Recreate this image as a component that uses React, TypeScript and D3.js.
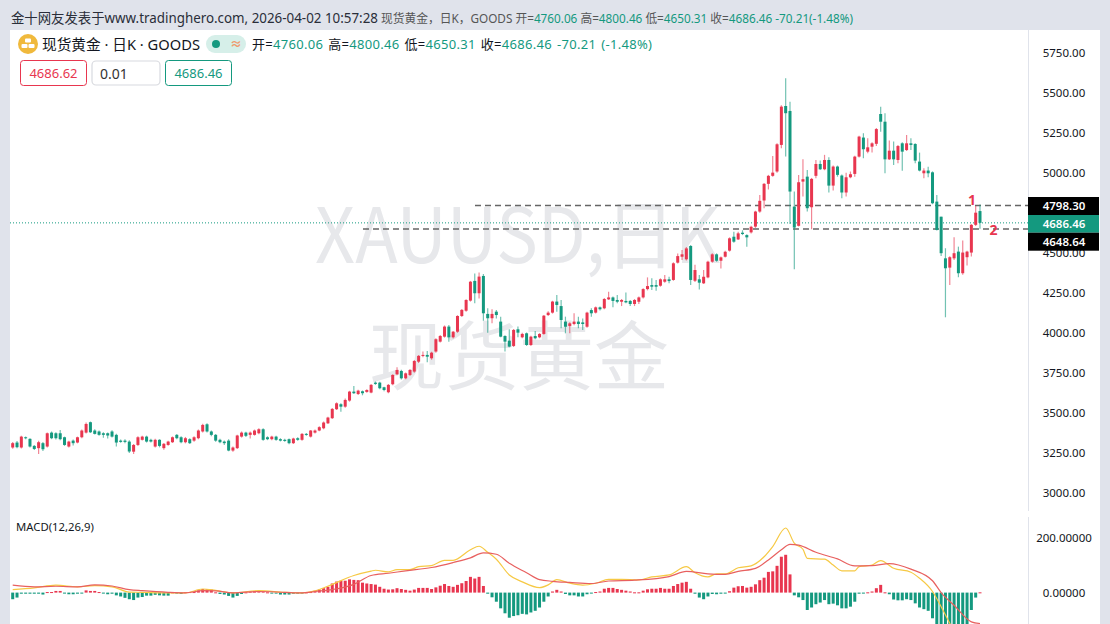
import React from "react";
import * as d3 from "d3";

// Daily candles
const opens = [
  3284,3315,3284,3348,3338,3294,3280,3311,3290,3377,
  3373,3373,3348,3290,3327,3315,3348,3377,3442,3390,
  3384,3373,3373,3384,3363,3327,3327,3321,3258,3300,
  3332,3352,3332,3290,3332,3280,3300,3317,3363,3348,
  3317,3336,3327,3342,3384,3429,3384,3363,3332,3321,
  3327,3265,3280,3352,3377,3363,3363,3373,3398,3348,
  3336,3352,3336,3332,3336,3311,3342,3332,3369,3352,
  3377,3390,3404,3435,3467,3523,3554,3539,3577,3633,
  3618,3635,3631,3627,3689,3689,3660,3629,3679,3741,
  3762,3716,3737,3758,3820,3856,3862,3841,3883,3945,
  3976,4039,3972,4007,4105,4138,4201,4324,4247,4355,
  4118,4091,4132,4070,3980,3951,3918,4022,3972,3997,
  3924,3980,3972,3993,4111,4126,4195,4167,4070,4043,
  4055,4070,4065,4038,4142,4126,4159,4153,4209,4221,
  4205,4194,4199,4199,4180,4194,4221,4273,4298,4298,
  4294,4319,4334,4330,4438,4475,4459,4542,4325,4334,
  4309,4346,4444,4490,4450,4475,4513,4600,4583,4625,
  4610,4627,4663,4757,4826,4930,4980,5007,5173,5416,
  5385,4788,4668,4944,4975,4784,4980,5054,5021,5079,
  4919,5038,4982,4876,4971,4992,5100,5219,5131,5162,
  5180,5366,5318,5083,5137,5079,5183,5141,5183,5179,
  5069,4996,5013,5002,4819,4725,4465,4407,4465,4507,
  4372,4472,4501,4674,4760.06,
];
const closes = [
  3311,3286,3352,3342,3290,3275,3317,3273,3373,3342,
  3342,3336,3300,3321,3311,3348,3390,3431,3379,3369,
  3363,3363,3359,3352,3315,3319,3319,3259,3300,3348,
  3352,3321,3321,3332,3294,3307,3321,3348,3342,3317,
  3342,3311,3348,3390,3425,3384,3363,3327,3317,3311,
  3265,3284,3359,3377,3357,3377,3390,3398,3332,3336,
  3352,3332,3327,3325,3311,3340,3332,3369,3363,3390,
  3390,3411,3440,3471,3525,3560,3539,3581,3633,3623,
  3639,3623,3643,3675,3681,3654,3643,3675,3737,3768,
  3716,3747,3768,3824,3856,3862,3851,3876,3960,3980,
  4039,3972,4007,4105,4143,4205,4319,4247,4351,4122,
  4091,4118,4111,3976,3945,3914,4018,4001,3993,3924,
  3976,3966,3993,4107,4126,4195,4174,4080,4038,4059,
  4070,4055,4055,4126,4122,4159,4147,4211,4221,4199,
  4194,4205,4190,4180,4205,4221,4273,4292,4288,4288,
  4334,4334,4323,4434,4479,4490,4527,4330,4392,4313,
  4350,4444,4490,4450,4471,4506,4590,4569,4621,4617,
  4596,4662,4757,4824,4930,4980,5000,5177,5412,5371,
  4882,4657,4940,4959,4778,4961,5054,5021,5079,4919,
  5038,4986,4876,4971,4990,5100,5225,5146,5158,5183,
  5272,5318,5083,5137,5083,5166,5131,5183,5173,5075,
  5013,5013,4996,4809,4642,4497,4403,4472,4497,4372,
  4501,4507,4674,4750,4686.46,
];
const highs = [
  3319,3325,3358,3352,3342,3300,3326,3318,3378,3384,
  3380,3394,3352,3326,3334,3352,3396,3440,3446,3398,
  3390,3380,3378,3392,3370,3334,3336,3330,3306,3354,
  3358,3358,3338,3338,3336,3312,3326,3353,3368,3354,
  3350,3342,3354,3396,3432,3436,3390,3368,3338,3328,
  3336,3290,3364,3384,3382,3384,3396,3404,3404,3354,
  3358,3358,3342,3338,3340,3345,3348,3374,3374,3394,
  3396,3416,3446,3476,3530,3566,3560,3590,3638,3668,
  3644,3640,3648,3680,3696,3694,3664,3680,3742,3785,
  3770,3752,3774,3830,3862,3883,3887,3882,3966,3986,
  4046,4049,4012,4110,4148,4210,4324,4371,4376,4367,
  4153,4147,4143,4101,3985,4022,4024,4039,4000,4002,
  3982,4012,3998,4112,4134,4200,4236,4205,4101,4066,
  4122,4101,4090,4132,4153,4165,4165,4217,4257,4226,
  4236,4211,4251,4205,4211,4226,4278,4346,4340,4330,
  4340,4361,4350,4440,4495,4517,4535,4548,4425,4361,
  4392,4450,4496,4496,4477,4512,4596,4631,4631,4640,
  4615,4668,4762,4860,4936,4986,5104,5183,5420,5589,
  5443,4882,4986,5084,5017,4967,5079,5075,5111,5096,
  5044,5044,4988,5000,5007,5106,5231,5246,5215,5190,
  5278,5412,5370,5200,5194,5172,5190,5235,5214,5183,
  5125,5027,5037,5008,4861,4725,4528,4478,4596,4538,
  4576,4513,4680,4792,4800.46,
];
const lows = [
  3277,3280,3278,3336,3284,3268,3244,3262,3284,3336,
  3334,3330,3294,3284,3296,3310,3342,3372,3375,3365,
  3358,3345,3340,3346,3290,3313,3310,3250,3244,3294,
  3327,3315,3316,3284,3285,3270,3295,3312,3335,3310,
  3310,3306,3320,3336,3378,3378,3355,3320,3310,3300,
  3260,3258,3274,3346,3350,3340,3358,3366,3326,3330,
  3330,3326,3322,3320,3305,3306,3326,3326,3357,3346,
  3372,3385,3398,3430,3462,3518,3508,3532,3570,3618,
  3612,3610,3626,3622,3675,3648,3635,3622,3672,3735,
  3708,3710,3730,3750,3812,3848,3816,3832,3875,3940,
  3970,3945,3965,4000,4098,4132,4195,4184,4215,4076,
  4001,4059,4090,3972,3883,3910,3912,3972,3966,3918,
  3918,3960,3966,3988,4105,4120,4132,4028,3997,3997,
  4048,4028,4018,4032,4101,4120,4140,4147,4205,4159,
  4184,4167,4184,4167,4167,4180,4215,4265,4267,4263,
  4288,4312,4309,4325,4432,4454,4452,4298,4318,4271,
  4305,4340,4438,4444,4402,4470,4507,4563,4579,4610,
  4538,4620,4655,4750,4778,4895,4975,5000,5152,5100,
  4680,4397,4663,4851,4757,4647,4965,5017,5015,4876,
  4888,4975,4840,4851,4965,4975,5094,5090,5121,5125,
  5166,5256,4996,5079,5048,5058,5012,5135,5141,5058,
  5008,4965,4971,4803,4638,4480,4097,4299,4455,4347,
  4362,4420,4476,4667,4650.31,
];

// MACD histogram, one value per candle
const macdHist = [
  -24,-18,-4,-4,-4,-4,-4,-7,2,2,
  6,6,-2,-6,-6,-4,-2,8,6,6,
  2,-1,-6,-4,-10,-14,-19,-24,-27,-18,
  -16,-11,-11,-8,-10,-11,-11,1,-1,-5,
  2,2,2,8,13,12,11,1,-5,-7,
  -12,-18,-12,-5,1,4,6,6,4,1,
  -1,-2,-7,-7,-7,-4,-4,-1,1,2,
  7,11,16,21,33,40,43,43,48,46,
  45,36,33,31,29,21,14,11,12,16,
  13,10,7,11,17,17,17,13,19,25,
  31,24,21,28,34,42,57,51,57,24,
  -4,-17,-33,-57,-75,-91,-85,-82,-77,-79,
  -72,-66,-54,-33,-14,4,10,4,-5,-10,
  -10,-14,-14,-6,-2,2,4,14,17,17,
  13,10,7,4,1,1,7,12,14,14,
  17,14,14,24,31,36,39,14,-4,-18,
  -24,-14,-5,-6,-4,-1,5,18,23,24,
  18,21,30,45,54,75,77,97,130,137,
  66,-10,-17,-27,-63,-54,-42,-36,-27,-42,
  -40,-46,-57,-57,-51,-33,-4,-1,1,4,
  16,28,1,-6,-25,-28,-28,-24,-27,-39,
  -54,-60,-66,-93,-127,-139,-145,-151,-145,-139,
  -133,-115,-63,-18,1,
];

// MACD lines, vertices read where the lines bend
const difIndex = [0,5,10,15,19,23,27,30,36,40,44,47,51,57,63,67,70,74,79,83,84,87,89,92,94,97,100,102,106,108,110,112,115,118,122,124,126,129,132,135,138,141,145,148,152,156,158,161,163,165,168,171,174,176,179,181,183,184,188,190,192,195,196,199,201,204,208,210,213,215,217,218,224];
const difValues = [11,17,27,21,25,21,2,1,-1,-1,13,8,-1,7,1,-1,6,30,62,78,81,75,83,83,94,98,117,117,155,168,146,121,64,39,18,28,47,34,27,34,48,48,46,57,64,94,72,57,68,68,90,97,130,167,234,179,157,124,121,100,79,79,94,100,116,88,74,52,4,-51,-111,-141,-230];
const deaIndex = [0,5,10,15,19,23,27,30,36,40,44,47,51,57,63,67,70,74,79,83,87,91,97,102,106,109,112,115,119,122,125,129,134,138,144,152,156,161,165,168,172,175,178,180,182,186,191,195,199,203,208,213,215,218,222,224];
const deaValues = [27,21,23,21,28,24,11,7,1,-1,7,6,-1,4,1,-1,4,11,30,62,70,79,91,109,126,144,139,106,72,47,41,37,33,42,45,58,77,68,66,77,88,118,155,175,172,146,122,97,98,105,85,43,0,-46,-106,-112];

// 4750.00 sits behind the price tags in the picture, so it is not listed
const priceTicks = [5750,5500,5250,5000,4500,4250,4000,3750,3500,3250,3000];
const macdTicks = [200, 0];
const levelOne = 4798.3;
const levelTwo = 4648.64;
const lastClose = 4686.46;

const red = "#e8364f";
const green = "#14997f";
const sans = "'Noto Sans', 'Noto Sans CJK SC', sans-serif";
const cjk = "'Noto Sans CJK SC', 'Noto Sans', sans-serif";

const indices = d3.range(opens.length);
const x = d3.scalePoint<number>().domain(indices).range([12.7, 980]);
const y = d3.scaleLinear().domain([3000, 5750]).range([493, 52.5]);
const yMacd = d3.scaleLinear().domain([0, 200]).range([592.6, 537.4]);

const difLine = d3.line<number>().x((d) => x(d) as number).y((_, i) => yMacd(difValues[i])).curve(d3.curveMonotoneX);
const deaLine = d3.line<number>().x((d) => x(d) as number).y((_, i) => yMacd(deaValues[i])).curve(d3.curveMonotoneX);

const App: React.FC = () => {
  const barW = 3;
  return (
    <svg
      width={1110}
      height={624}
      viewBox="0 0 1110 624"
      style={{ position: "absolute", left: 0, top: 0, display: "block", background: "#e0e3eb" }}
      fontFamily={sans}
    >
      <rect x={10} y={30} width={1090} height={594} fill="#fff" />

      {/* watermark */}
      <text x={315} y={263} fontSize={76} fill="#e7e8eb" fontFamily={cjk} textLength={405} lengthAdjust="spacingAndGlyphs">XAUUSD,日K</text>
      <text x={369} y={384} fontSize={75} fill="#e7e8eb" fontFamily={cjk}>现货黄金</text>

      {/* header strip */}
      <text x={11} y={23} fontSize={13.6} fill="#2a2e39" textLength={367} lengthAdjust="spacingAndGlyphs">
        金十网友发表于www.tradinghero.com, 2026-04-02 10:57:28
      </text>
      <text x={381} y={22.5} fontSize={12} fill="#555" textLength={472} lengthAdjust="spacingAndGlyphs">
        现货黄金，日K，GOODS 开=
        <tspan fill={green}>4760.06</tspan> 高=
        <tspan fill={green}>4800.46</tspan> 低=
        <tspan fill={green}>4650.31</tspan> 收=
        <tspan fill={green}>4686.46 -70.21(-1.48%)</tspan>
      </text>

      {/* legend */}
      <circle cx={28} cy={44} r={10} fill="#f0b93c" />
      <rect x={25} y={38.5} width={6} height={4} rx={1} fill="#fff" />
      <rect x={21.5} y={44} width={6} height={4} rx={1} fill="#fff" />
      <rect x={28.5} y={44} width={6} height={4} rx={1} fill="#fff" />
      <text x={42} y={49.5} fontSize={14.5} fill="#131722" textLength={158} lengthAdjust="spacingAndGlyphs">现货黄金 · 日K · GOODS</text>
      <rect x={206} y={35} width={40} height={18} rx={9} fill="#d6efe9" />
      <circle cx={216} cy={44} r={4} fill={green} />
      <text x={236} y={48.5} fontSize={12} textAnchor="middle" fill="#ef9a6e" fontWeight={700}>≈</text>
      <text x={252} y={49} fontSize={13} fill="#131722" letterSpacing={0.3}>
        开=<tspan fill={green}>4760.06</tspan>
        <tspan dx={5}>高=</tspan><tspan fill={green}>4800.46</tspan>
        <tspan dx={5}>低=</tspan><tspan fill={green}>4650.31</tspan>
        <tspan dx={5}>收=</tspan><tspan fill={green}>4686.46</tspan>
        <tspan dx={5} fill={green}>-70.21</tspan>
        <tspan dx={5} fill={green}>(-1.48%)</tspan>
      </text>

      {/* quote boxes */}
      <rect x={20.5} y={60.5} width={66} height={25} rx={3} fill="#fff" stroke={red} />
      <text x={53.5} y={77.5} fontSize={13} textAnchor="middle" fill={red}>4686.62</text>
      <rect x={92} y={61} width={68} height={24} rx={4} fill="#fff" stroke="#d8dadf" strokeWidth={1.2} />
      <text x={100} y={79} fontSize={14} fill="#333">0.01</text>
      <rect x={165.5} y={60.5} width={66} height={25} rx={3} fill="#fff" stroke={green} />
      <text x={198.5} y={77.5} fontSize={13} textAnchor="middle" fill={green}>4686.46</text>

      {/* price pane */}
      <line x1={10} x2={1028} y1={y(lastClose)} y2={y(lastClose)} stroke={green} strokeDasharray="1 2" />
      <line x1={475} x2={1028} y1={y(levelOne) + 0.5} y2={y(levelOne) + 0.5} stroke="#666" strokeWidth={1.5} strokeDasharray="6 4" />
      <line x1={363} x2={1028} y1={y(levelTwo)} y2={y(levelTwo)} stroke="#666" strokeWidth={1.5} strokeDasharray="6 4" />

      <g>
        {indices.map((i) => {
          const up = closes[i] >= opens[i];
          const color = up ? red : green;
          const cx = x(i) as number;
          const top = y(Math.max(opens[i], closes[i]));
          const bottom = y(Math.min(opens[i], closes[i]));
          return (
            <g key={i}>
              <line x1={cx} x2={cx} y1={y(highs[i])} y2={y(lows[i])} stroke={color} strokeOpacity={0.6} strokeWidth={1.2} />
              <rect x={cx - barW / 2} y={top} width={barW} height={Math.max(bottom - top, 1)} fill={color} />
            </g>
          );
        })}
      </g>

      <text x={972} y={205} fontSize={14} fontWeight={700} textAnchor="middle" fill={red}>1</text>
      <text x={993.5} y={234.5} fontSize={14} fontWeight={700} textAnchor="middle" fill={red}>2</text>

      {/* MACD pane */}
      <text x={16} y={531} fontSize={11.3} fill="#131722">MACD(12,26,9)</text>
      {indices.map((i) => {
        const v = macdHist[i];
        const cx = x(i) as number;
        const top = yMacd(Math.max(v, 0));
        const h = Math.max(Math.abs(yMacd(v) - yMacd(0)), 1);
        return <rect key={i} x={cx - barW / 2} y={top} width={barW} height={h} fill={v >= 0 ? red : green} />;
      })}
      <path d={difLine(difIndex) as string} fill="none" stroke="#f6c944" strokeWidth={1.2} />
      <path d={deaLine(deaIndex) as string} fill="none" stroke="#e8605f" strokeWidth={1.2} />

      {/* right axis */}
      <rect x={1029} y={30} width={71} height={594} fill="#fff" />
      <line x1={1028.5} x2={1028.5} y1={30} y2={511} stroke="#e0e3eb" />
      <line x1={1028.5} x2={1028.5} y1={517} y2={624} stroke="#e0e3eb" />
      {priceTicks.map((t) => (
        <text key={t} x={1064} y={y(t) + 4.2} fontSize={11.5} textAnchor="middle" fill="#131722">{t.toFixed(2)}</text>
      ))}
      {macdTicks.map((t) => (
        <text key={t} x={1064} y={yMacd(t) + 4.2} fontSize={11.5} textAnchor="middle" fill="#131722">{t.toFixed(5)}</text>
      ))}

      {/* price tags */}
      <rect x={1028} y={197} width={71} height={18} fill="#000" />
      <text x={1064} y={210} fontSize={11.5} textAnchor="middle" fill="#fff" fontWeight={600}>{levelOne.toFixed(2)}</text>
      <rect x={1028} y={215} width={71} height={17.7} fill={green} />
      <text x={1064} y={228} fontSize={11.5} textAnchor="middle" fill="#fff" fontWeight={600}>{lastClose.toFixed(2)}</text>
      <rect x={1028} y={232.7} width={71} height={18} fill="#000" />
      <text x={1064} y={246} fontSize={11.5} textAnchor="middle" fill="#fff" fontWeight={600}>{levelTwo.toFixed(2)}</text>
    </svg>
  );
};

export default App;
